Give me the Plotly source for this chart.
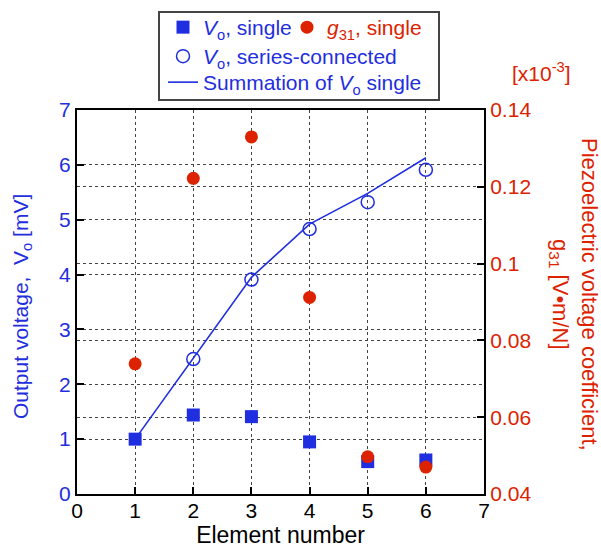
import plotly.graph_objects as go

# ---- data ----
elements = [1, 2, 3, 4, 5, 6]
vo_single = [1.00, 1.44, 1.41, 0.95, 0.59, 0.62]
g31_single = [0.0739, 0.1222, 0.1330, 0.0912, 0.0497, 0.0470]
series_x = [2, 3, 4, 5, 6]
vo_series = [2.46, 3.91, 4.83, 5.32, 5.91]
vo_sum = [1.00, 2.47, 3.95, 4.92, 5.48, 6.13]

x_ticks = [0, 1, 2, 3, 4, 5, 6, 7]
y_ticks = [0, 1, 2, 3, 4, 5, 6, 7]
y2_ticks = [0.04, 0.06, 0.08, 0.1, 0.12, 0.14]

BLUE = "#1f2ede"
RED = "#dd2200"
FONT = "Liberation Sans, Arial, sans-serif"
GRID = "#444444"

W, H = 601, 551

fig = go.Figure()

fig.add_trace(go.Scatter(
    x=elements, y=vo_sum, mode="lines",
    line=dict(color=BLUE, width=1.6),
    name="Summation of <i>V</i><sub>o</sub> single",
    legend="legend3",
))
fig.add_trace(go.Scatter(
    x=series_x, y=vo_series, mode="markers",
    marker=dict(symbol="circle-open", size=13, color=BLUE, line=dict(width=1.5, color=BLUE)),
    name="<i>V</i><sub>o</sub>, series-connected",
    legend="legend2",
))
fig.add_trace(go.Scatter(
    x=elements, y=vo_single, mode="markers",
    marker=dict(symbol="square", size=13, color=BLUE),
    name="<i>V</i><sub>o</sub>, single",
    legend="legend", legendrank=1, legendwidth=79,
))
fig.add_trace(go.Scatter(
    x=elements, y=g31_single, mode="markers", yaxis="y2",
    marker=dict(symbol="circle", size=13, color=RED),
    name='<span style="color:%s"><i>g</i><sub>31</sub>, single</span>' % RED,
    legend="legend", legendrank=2, legendwidth=110,
))

def px_to_paper_x(px):
    return (px - 77) / 407.0

def px_to_paper_y(py):
    return (494 - py) / 384.0

def cx(px):
    return px / W

def cy(py):
    return 1 - py / H

fig.add_shape(type="rect", xref="paper", yref="paper",
              x0=px_to_paper_x(159), x1=px_to_paper_x(439),
              y0=px_to_paper_y(100), y1=px_to_paper_y(12),
              line=dict(color="#444444", width=2), fillcolor="white", layer="below")

axis_common = dict(
    showline=True, linecolor="black", linewidth=2,
    ticks="inside", ticklen=7, tickwidth=2, tickcolor="black",
    showgrid=True, gridcolor=GRID, griddash="dot", gridwidth=1,
    zeroline=False, automargin=False,
)

legend_common = dict(
    xanchor="left", yanchor="top", xref="container", yref="container",
    bgcolor="rgba(0,0,0,0)", borderwidth=0, tracegroupgap=0,
    font=dict(family=FONT, size=21, color=BLUE),
    itemwidth=30,
)

fig.update_layout(
    width=W, height=H,
    margin=dict(l=77, r=117, t=110, b=57, autoexpand=False),
    paper_bgcolor="white", plot_bgcolor="white",
    font=dict(family=FONT, size=21, color="black"),
    showlegend=True,
    xaxis=dict(
        range=[0, 7], tickvals=x_ticks, mirror=True,
        title=dict(text="Element number", font=dict(size=23, color="black"), standoff=2),
        tickfont=dict(size=21, color="black"), ticklabelstandoff=-3,
        **axis_common,
    ),
    yaxis=dict(
        range=[0, 7], tickvals=y_ticks,
        tickfont=dict(size=21, color=BLUE),
        **axis_common,
    ),
    yaxis2=dict(
        range=[0.04, 0.14], tickvals=y2_ticks, overlaying="y", side="right",
        tickfont=dict(size=21, color=RED),
        **axis_common,
    ),
    legend=dict(orientation="h", x=cx(163), y=cy(7), **legend_common),
    legend2=dict(orientation="v", x=cx(163), y=cy(36), **legend_common),
    legend3=dict(orientation="v", x=cx(163), y=cy(62), **legend_common),
    annotations=[
        dict(text="Output voltage,  V<sub>o</sub> [mV]",
             xref="paper", yref="paper", x=px_to_paper_x(22), y=px_to_paper_y(307),
             xanchor="center", yanchor="middle", textangle=-90, showarrow=False,
             font=dict(size=21, color=BLUE)),
        dict(text="Piezoelectric voltage coefficient,<br>g<sub>31</sub> [V\u2022m/N]",
             xref="paper", yref="paper", x=px_to_paper_x(574), y=px_to_paper_y(294),
             xanchor="center", yanchor="middle", textangle=90, showarrow=False,
             font=dict(size=22, color=RED)),
        dict(text="[x10<sup>-3</sup>]", xref="paper", yref="paper",
             x=px_to_paper_x(541), y=px_to_paper_y(72), xanchor="center", yanchor="middle",
             showarrow=False, font=dict(size=21, color=RED)),
    ],
)

fig.write_html("out.html")
